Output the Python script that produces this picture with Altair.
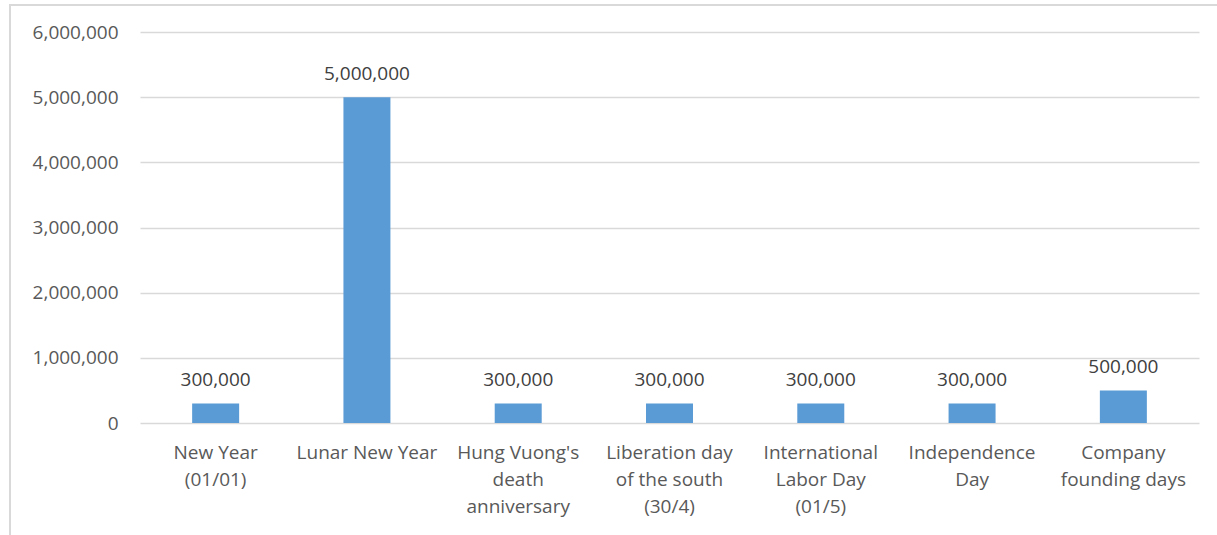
import altair as alt
import pandas as pd

categories = [
    "New Year|(01/01)",
    "Lunar New Year",
    "Hung Vuong's|death|anniversary",
    "Liberation day|of the south|(30/4)",
    "International|Labor Day|(01/5)",
    "Independence|Day",
    "Company|founding days",
]
values = [300000, 5000000, 300000, 300000, 300000, 300000, 500000]
y_ticks = [0, 1000000, 2000000, 3000000, 4000000, 5000000, 6000000]

df = pd.DataFrame({"cat": categories, "val": values})

FONT = "Open Sans"
TXT = "#595959"
FS = 19

x_enc = alt.X(
    "cat:N",
    sort=None,
    title=None,
    scale=alt.Scale(paddingInner=0.0, paddingOuter=0.0),
    axis=alt.Axis(
        labelExpr="split(datum.label, '|')",
        labelAngle=0,
        labelLineHeight=27,
        labelPadding=20,
        grid=False,
        labelLimit=200,
    ),
)
y_enc = alt.Y(
    "val:Q",
    title=None,
    scale=alt.Scale(domain=[0, 6000000], nice=False),
    axis=alt.Axis(values=y_ticks, format=",.0f", labelPadding=22),
)

base = alt.Chart(df).encode(x=x_enc, y=y_enc)

border = alt.Chart(df).mark_rect(
    fill=None, stroke="#d9d9d9", strokeWidth=1.3, clip=False
).encode(
    x=alt.value(-130), x2=alt.value(1100), y=alt.value(-27), y2=alt.value(560)
)

bars = base.mark_bar(size=47, color="#5b9bd5")
labels = base.mark_text(
    baseline="bottom", dy=-13, font=FONT, fontSize=FS, color="#404040"
).encode(text=alt.Text("val:Q", format=",.0f"))

chart = (
    alt.layer(border, bars, labels)
    .properties(width=1059, height=391, autosize=alt.AutoSizeParams(type="none"),
                padding={"left": 140, "top": 32, "right": 18, "bottom": 112},
                background="white")
    .configure_view(stroke="transparent", strokeWidth=0)
    .configure_axis(labelFont=FONT, labelFontSize=FS, labelColor=TXT, ticks=False,
                    domain=False, gridColor="#d9d9d9", gridWidth=1.3)
)

chart.save("out.html", embed_options={"renderer": "svg", "actions": False})
